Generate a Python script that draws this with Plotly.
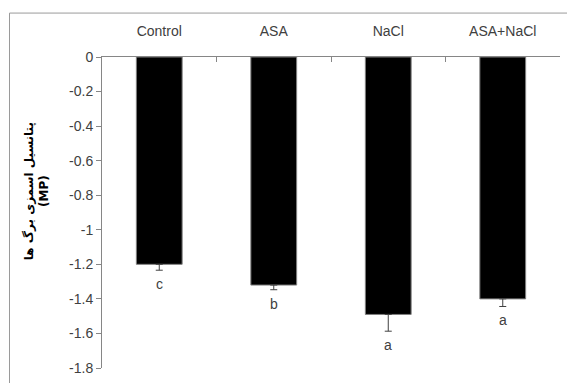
import plotly.graph_objects as go

# Leaf osmotic potential by treatment
categories = ["Control", "ASA", "NaCl", "ASA+NaCl"]
values = [-1.20, -1.32, -1.49, -1.40]
errors = [0.034, 0.027, 0.097, 0.044]
letters = ["c", "b", "a", "a"]
y_ticks = [0, -0.2, -0.4, -0.6, -0.8, -1, -1.2, -1.4, -1.6, -1.8]
y_title = "پتانسیل اسمزی برگ ها<br>(MP)"

W, H = 567, 383
L, R, T, B = 102, 7, 57, 11
pw, ph = W - L - R, H - T - B

text_col = "#404040"
axis_col = "#868686"
font_main = "Liberation Sans Narrow, Liberation Sans, Arial, sans-serif"

fig = go.Figure()
fig.add_trace(go.Bar(
    x=categories, y=values, width=0.4,
    marker=dict(color="black", line=dict(color="#808080", width=1)),
    error_y=dict(type="data", symmetric=False,
                 array=[0] * len(errors), arrayminus=errors,
                 color="#404040", thickness=1, width=3.5),
))

for c, v, e, lt in zip(categories, values, errors, letters):
    fig.add_annotation(x=c, y=v - e, text=lt, showarrow=False,
                       yanchor="top", yshift=-4,
                       font=dict(family=font_main, size=14, color=text_col))

# Y-axis title (rotated, two lines)
fig.add_annotation(xref="paper", yref="paper",
                   x=(36 - L) / pw, y=(H - B - 193) / ph,
                   text="<b>" + y_title + "</b>", textangle=-90,
                   showarrow=False, xanchor="center", yanchor="middle",
                   font=dict(family="DejaVu Sans, sans-serif", size=12, color="black"))

# Chart frame (top and left edges)
top_y = (H - B - 12.5) / ph
left_x = (9.5 - L) / pw
fig.add_shape(type="line", xref="paper", yref="paper",
              x0=left_x, x1=1.2, y0=top_y, y1=top_y,
              line=dict(color="#9a9a9a", width=1))
fig.add_shape(type="line", xref="paper", yref="paper",
              x0=left_x, x1=left_x, y0=top_y, y1=-0.2,
              line=dict(color="#9a9a9a", width=1))

fig.update_layout(
    width=W, height=H,
    margin=dict(l=L, r=R, t=T, b=B),
    paper_bgcolor="white", plot_bgcolor="white",
    showlegend=False,
    xaxis=dict(side="top", showline=True, linecolor=axis_col, linewidth=1,
               ticks="inside", ticklen=5, tickcolor=axis_col,
               tickson="boundaries", showgrid=False, zeroline=False,
               ticklabelstandoff=14,
               tickfont=dict(family=font_main, size=14, color=text_col)),
    yaxis=dict(range=[-1.8, 0], tickvals=y_ticks,
               ticktext=[f"{t:g}" for t in y_ticks],
               showline=True, linecolor=axis_col, linewidth=1,
               ticks="outside", ticklen=5, tickcolor=axis_col,
               showgrid=False, zeroline=False,
               tickfont=dict(family=font_main, size=14, color=text_col)),
)

fig.write_html("out.html")
